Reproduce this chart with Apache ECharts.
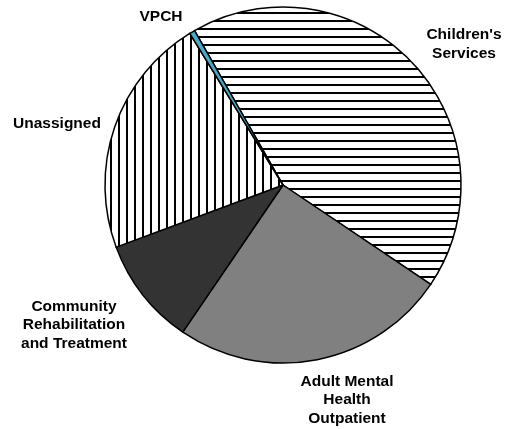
<!DOCTYPE html>
<html>
<head>
<meta charset="utf-8">
<script src="https://cdn.jsdelivr.net/npm/echarts@6/dist/echarts.min.js"></script>
<style>
  html, body { margin: 0; padding: 0; background: #fff; }
  #main { width: 508px; height: 429px; }
</style>
</head>
<body>
<div id="main"></div>
<script>
// slices, clockwise from the VPCH edge
var categories = ["Children's\nServices", "Adult Mental\nHealth\nOutpatient", "Community\nRehabilitation\nand Treatment", "Unassigned", "VPCH"];
var values = [42.7, 25.1, 9.8, 21.9, 0.5];

// where each label sits (centre of text block)
var labelPos = [[464, 44], [347, 400], [74, 325], [57, 124], [161, 17]];

// striped fills
function stripes(vertical) {
    var c = document.createElement('canvas');
    c.width = 8;
    c.height = 8;
    var ctx = c.getContext('2d');
    ctx.fillStyle = '#fff';
    ctx.fillRect(0, 0, 8, 8);
    ctx.fillStyle = '#000';
    if (vertical) ctx.fillRect(6, 0, 2, 8);
    else ctx.fillRect(0, 4, 8, 2);
    return c;
}

var fills = [
    { image: stripes(false), repeat: 'repeat' },
    '#808080',
    '#333333',
    { image: stripes(true), repeat: 'repeat' },
    '#4aa9c4'
];

var chart = echarts.init(document.getElementById('main'), null, { renderer: 'canvas' });

var option = {
    animation: false,
    backgroundColor: '#fff',
    series: [
        {
            type: 'pie',
            center: [283, 185],
            radius: 178,
            startAngle: 119.8,
            clockwise: true,
            avoidLabelOverlap: false,
            silent: true,
            itemStyle: {
                borderColor: '#000',
                borderWidth: 1.5
            },
            label: {
                show: true,
                position: 'outside',
                color: '#000',
                fontFamily: 'Arial, "Liberation Sans", sans-serif',
                fontWeight: 'bold',
                fontSize: 15.5,
                lineHeight: 18.5,
                align: 'center'
            },
            labelLine: { show: false },
            labelLayout: function (p) {
                var pos = labelPos[p.dataIndex];
                return { x: pos[0], y: pos[1], align: 'center', verticalAlign: 'middle' };
            },
            data: categories.map(function (name, i) {
                return { name: name, value: values[i], itemStyle: { color: fills[i] } };
            })
        }
    ]
};

chart.setOption(option);
</script>
</body>
</html>
